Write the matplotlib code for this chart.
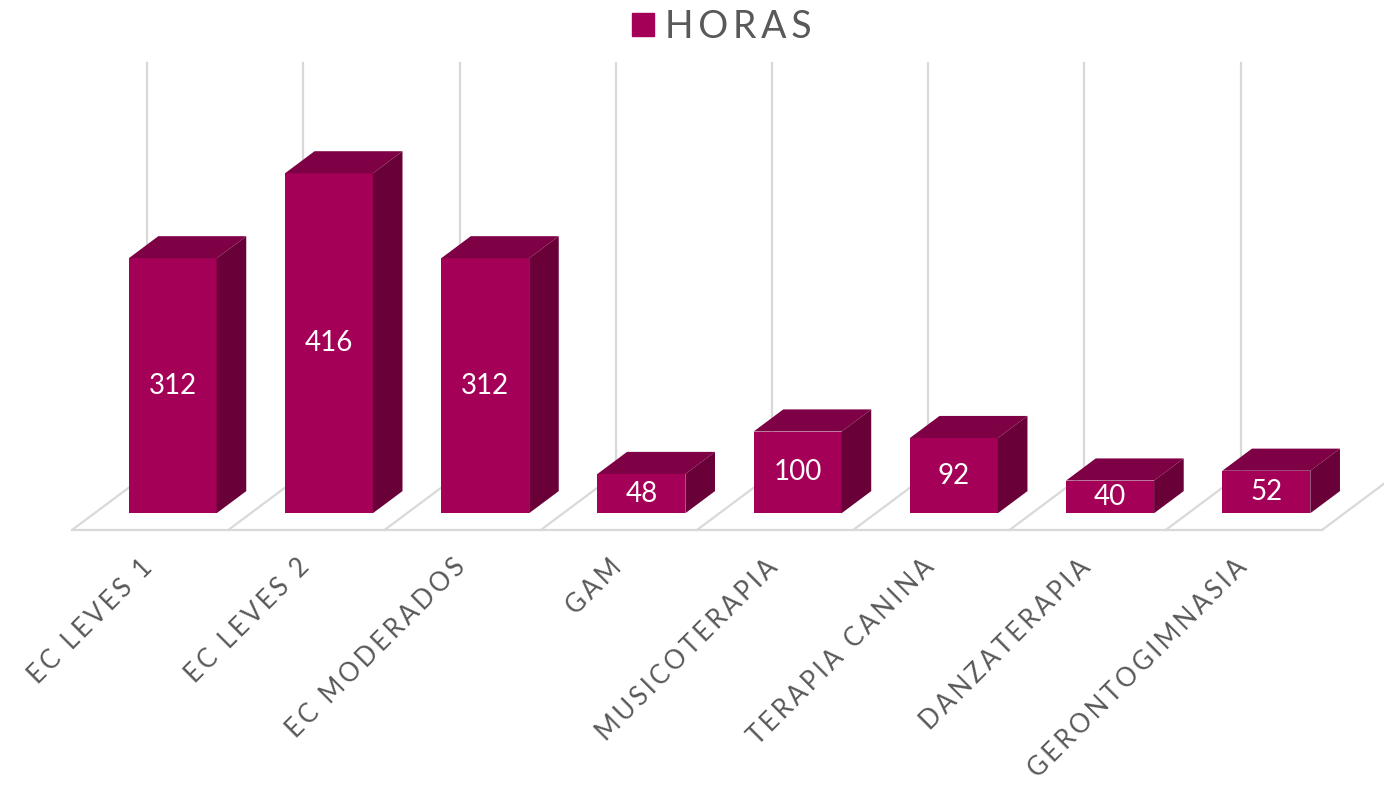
import matplotlib.pyplot as plt
from matplotlib.patches import Patch

# datos
categorias = ['EC LEVES 1', 'EC LEVES 2', 'EC MODERADOS', 'GAM', 'MUSICOTERAPIA',
              'TERAPIA CANINA', 'DANZATERAPIA', 'GERONTOGIMNASIA']
horas = [312, 416, 312, 48, 100, 92, 40, 52]
serie = 'HORAS'

# colores de las caras
c_frente = '#A50057'
c_arriba = '#7E0045'
c_lado = '#690037'
c_grid = '#D9D9D9'
c_texto = '#595959'

# perspectiva (unidades de datos)
prof_x = 0.48    # desplazamiento en x del fondo del piso
prof_y = 68.5    # desplazamiento en y del fondo del piso
d0, d1 = 0.30, 0.695   # profundidad de las barras dentro del piso
ancho = 0.563
alto_grid = 572

fonts = ['Lato', 'DejaVu Sans']


def espaciar(s):
    return '\u2009'.join(s)


fig = plt.figure(figsize=(13.84, 7.97), dpi=100)
ax = fig.add_axes([0, 0, 1, 1])
ax.set_xlim(-0.961, 7.897)
ax.set_ylim(-326.8, 648.7)
ax.axis('off')

n = len(categorias)

# piso y rejilla
ax.plot([-0.5, n - 0.5], [0, 0], color=c_grid, lw=1.6, zorder=1)
for b in range(n + 1):
    x0 = b - 0.5
    ax.plot([x0, x0 + prof_x], [0, prof_y], color=c_grid, lw=1.6, zorder=1)
    if b < n:
        ax.plot([x0 + prof_x, x0 + prof_x], [prof_y, alto_grid], color=c_grid, lw=1.6, zorder=1)

# barras 3d
for i, v in enumerate(horas):
    xa = i + d0 * prof_x - ancho / 2
    xb = xa + ancho
    ya = d0 * prof_y
    yb = ya + v
    ex = (d1 - d0) * prof_x
    ey = (d1 - d0) * prof_y
    ax.fill([xa, xb, xb, xa], [ya, ya, yb, yb], color=c_frente, zorder=3, lw=0)
    ax.fill([xa, xb, xb + ex, xa + ex], [yb, yb, yb + ey, yb + ey], color=c_arriba, zorder=3, lw=0)
    ax.fill([xb, xb + ex, xb + ex, xb], [ya, ya + ey, yb + ey, yb], color=c_lado, zorder=3, lw=0)
    ax.text((xa + xb) / 2, (ya + yb) / 2, str(v), color='white', fontsize=20,
            family=fonts, ha='center', va='center', zorder=4)

# etiquetas de categorias
for i, c in enumerate(categorias):
    ax.text(i - 0.065, -30, espaciar(c), rotation=45, rotation_mode='anchor',
            ha='right', va='top', fontsize=18.5, color=c_texto, family=fonts)

# leyenda
leg = ax.legend(handles=[Patch(color=c_frente, label=espaciar(serie))], loc='center',
                bbox_to_anchor=(722 / 1384, 1 - 27 / 797), frameon=False,
                handlelength=0.57, handleheight=0.57, handletextpad=0.3,
                borderpad=0, prop={'family': fonts, 'size': 27})
for t in leg.get_texts():
    t.set_color(c_texto)

fig.savefig('out.png', dpi=100)
